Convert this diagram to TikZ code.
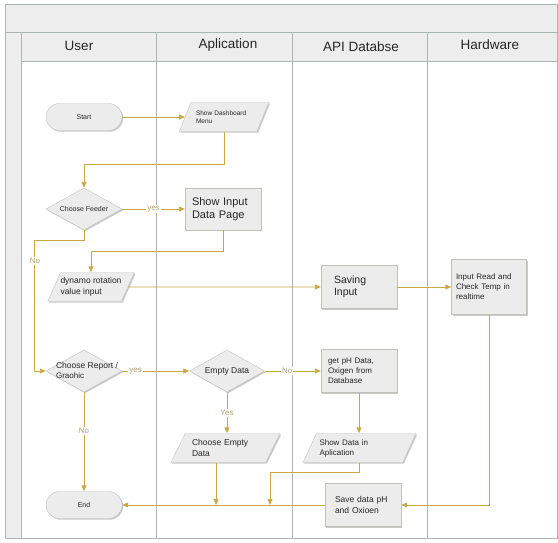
\documentclass[tikz,border=0pt]{standalone}
\usepackage{fontspec}
\setmainfont{Liberation Sans}
\usetikzlibrary{arrows.meta,shapes.geometric,shadows,positioning}
\definecolor{flowline}{HTML}{C9A846}
\definecolor{lanegray}{HTML}{AAB7B0}
\definecolor{boxfill}{HTML}{ECECEC}
\definecolor{boxdraw}{HTML}{BFC2BB}
\definecolor{headfill}{HTML}{EDEDED}
\definecolor{lbltext}{HTML}{B5A070}
\newcommand{\intext}[1]{\makebox[0pt]{\begin{tabular}{@{}l@{}}#1\end{tabular}}}

\begin{document}
\begin{tikzpicture}[x=1pt, y=-1pt,
  every node/.style={font=\fontsize{8}{10}\selectfont, text=black!85},
  lane/.style={draw=lanegray, line width=1pt},
  head/.style={font=\fontsize{13.5}{15}\selectfont},
  shade/.style={drop shadow={shadow xshift=1.2pt, shadow yshift=-1.2pt, opacity=.35, fill=black!60}},
  terminal/.style={shade, draw=boxdraw, fill=boxfill, rounded corners=13.5pt, minimum width=76pt, minimum height=27pt, font=\fontsize{7}{9}\selectfont},
  proc/.style={shade, draw=boxdraw, fill=boxfill, minimum width=76pt, minimum height=43pt, align=left, text width=62pt},
  io/.style={shade, draw=boxdraw, fill=boxfill, trapezium, trapezium left angle=63, trapezium right angle=117, trapezium stretches=true, minimum height=29pt, inner xsep=0pt, align=left},
  dec/.style={shade, draw=boxdraw, fill=boxfill, diamond, minimum width=76pt, minimum height=42pt, inner sep=0pt},
  arrow/.style={draw=flowline, line width=0.9pt, -{Triangle[length=6pt,width=5pt]}},
  lbl/.style={fill=white, inner sep=1pt, text=lbltext, font=\fontsize{8}{9}\selectfont}
]
\useasboundingbox (0,0) rectangle (558,542);
\fill[headfill] (5,4) rectangle (557,61);
\fill[headfill] (5,61) rectangle (21,538);
\draw[lane] (5,4) rectangle (557,538);
\draw[lane] (5,32) -- (557,32);
\draw[lane] (21,61) -- (557,61);
\draw[lane] (21,32) -- (21,538);
\foreach \x in {156,292,427}
  \draw[lane] (\x,32) -- (\x,538);
\node[head] (huser) at (79,46) {User};
\node[head] (happ) at (228,45) {Aplication};
\node[head] (hapi) at (361,47) {API Databse};
\node[head] (hhw) at (490,45) {Hardware};

\node[terminal] (start) at (84,117) {Start};
\node[io, minimum width=90pt, text width=56pt, font=\fontsize{6.5}{8}\selectfont] (dash) at (224,117) {Show Dashboard\\Menu};
\node[dec] (feeder) at (84,209) {\intext{\fontsize{7}{9}\selectfont Choose Feeder}};
\node[proc, minimum height=42pt, font=\fontsize{11}{13}\selectfont] (inpage) at (223,209) {Show Input\\Data Page};
\node[io, minimum width=86pt, font=\fontsize{8.5}{10.5}\selectfont] (dynamo) at (91,287) {dynamo rotation\\value input};
\node[proc, text width=50pt, font=\fontsize{10.5}{12.5}\selectfont] (saving) at (359,287) {Saving\\Input};
\node[proc, minimum width=75pt, minimum height=55pt, text width=66pt] (hw) at (489,287) {Input Read and\\Check Temp in\\realtime};
\node[dec] (report) at (84,371) {\intext{\fontsize{8.5}{11}\selectfont\hspace{6pt}Choose Report /\\\hspace{6pt}Graohic}};
\node[dec, minimum width=75pt] (empty) at (227,371) {\intext{\fontsize{8.5}{11}\selectfont Empty Data}};
\node[proc] (getph) at (359,371) {get pH Data,\\Oxigen from\\Database};
\node[io, minimum width=109pt, text width=67pt, font=\fontsize{8.5}{10.5}\selectfont] (choose) at (225.5,448) {Choose Empty\\Data};
\node[io, minimum width=113pt, text width=80pt] (showdata) at (359.5,448) {Show Data in\\Aplication};
\node[terminal] (stop) at (84,505) {End};
\node[proc, text width=56pt, font=\fontsize{8.5}{10.5}\selectfont] (save) at (363,505) {Save data pH\\and Oxioen};
\coordinate (j1) at (270,505);
\coordinate (j2) at (216,505);

\draw[arrow] (start) -- (dash);
\draw[arrow] (dash.south) -- ++(0,33) -| (feeder.north);
\draw[arrow] (feeder) -- node[lbl] (lyes1) {yes} (inpage);
\draw[arrow] (inpage.south) -- ++(0,21) -| (dynamo.north);
\draw[arrow] (feeder.south) -- ++(0,10) -| ([xshift=-11pt]report.west) -- (report.west);
\node[lbl] (lno1) at (35,261) {No};
\draw[arrow] (dynamo) -- (saving);
\draw[arrow] (saving) -- (hw);
\draw[arrow] (hw.south) |- (save.east);
\draw[arrow] (report) -- node[lbl, pos=.2] (lyes2) {yes} (empty);
\draw[arrow] (empty) -- node[lbl, pos=.4] (lno2) {No} (getph);
\draw[arrow] (empty.south) -- node[lbl] (lyes3) {Yes} (empty.south |- choose.north);
\draw[arrow] (report) -- node[lbl, pos=.39] (lno3) {No} (stop);
\draw[arrow] (getph) -- (showdata.north -| getph);
\draw[arrow] (showdata.south) -- ++(0,10) -| (j1);
\draw[arrow] (choose.south -| j2) -- (j2);
\draw[arrow] (save) -- (stop);
\end{tikzpicture}
\end{document}
